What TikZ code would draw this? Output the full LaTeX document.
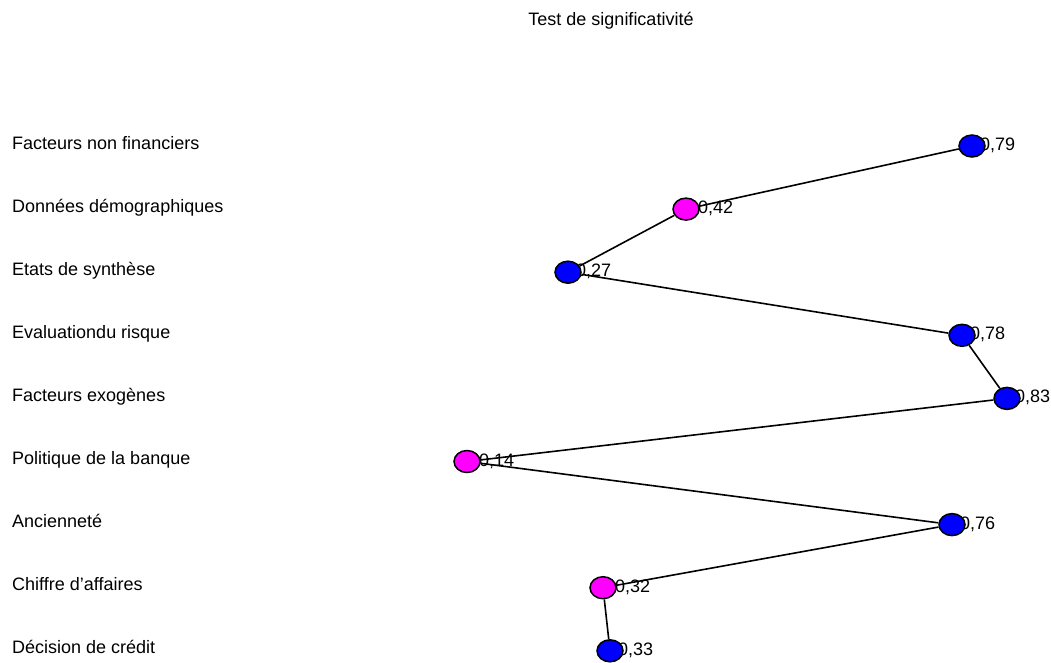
\documentclass[tikz,border=0pt]{standalone}
\usepackage{fontspec}
\setmainfont{Liberation Sans}
\usetikzlibrary{shapes.geometric,backgrounds}
\definecolor{ptblue}{RGB}{0,0,255}
\definecolor{ptmagenta}{RGB}{255,0,255}
\begin{document}
\begin{tikzpicture}[x=1pt,y=-1pt,
  every node/.style={font=\fontsize{18}{21}\selectfont},
  pt/.style={ellipse,draw=black,line width=1.5pt,minimum width=26pt,minimum height=22pt,inner sep=0pt},
  ptb/.style={pt,fill=ptblue},
  ptm/.style={pt,fill=ptmagenta},
  link/.style={black,line width=1.6pt},
  rowlabel/.style={anchor=base west,inner sep=0pt},
  valb/.style={anchor=base west,inner sep=0pt,xshift=8pt,yshift=-4.5pt},
  valm/.style={anchor=base west,inner sep=0pt,xshift=12pt,yshift=-4.5pt}]
\useasboundingbox (0,0) rectangle (1051,662);

% title
\node[anchor=base] (title) at (611,25) {Test de significativité};

% row labels
\node[rowlabel] (r1) at (12,149.0) {Facteurs non financiers};
\node[rowlabel] (r2) at (12,212.1) {Données démographiques};
\node[rowlabel] (r3) at (12,275.2) {Etats de synthèse};
\node[rowlabel] (r4) at (12,338.3) {Evaluationdu risque};
\node[rowlabel] (r5) at (12,401.4) {Facteurs exogènes};
\node[rowlabel] (r6) at (12,464.5) {Politique de la banque};
\node[rowlabel] (r7) at (12,527.6) {Ancienneté};
\node[rowlabel] (r8) at (12,590.7) {Chiffre d’affaires};
\node[rowlabel] (r9) at (12,653.8) {Décision de crédit};

% points
\node[ptb] (p1) at (972,146.0) {};
\node[ptm] (p2) at (686,209.1) {};
\node[ptb] (p3) at (568,272.2) {};
\node[ptb] (p4) at (962,335.3) {};
\node[ptb] (p5) at (1007,398.4) {};
\node[ptm] (p6) at (467,461.5) {};
\node[ptb] (p7) at (952,524.6) {};
\node[ptm] (p8) at (603,587.7) {};
\node[ptb] (p9) at (610,650.8) {};

% connecting profile line
\draw[link] (p1) -- (p2) -- (p3) -- (p4) -- (p5) -- (p6) -- (p7) -- (p8) -- (p9);

% values, placed behind the points and the line
\begin{scope}[on background layer]
\node[valb] (v1) at (p1.center) {0,79};
\node[valm] (v2) at (p2.center) {0,42};
\node[valb] (v3) at (p3.center) {0,27};
\node[valb] (v4) at (p4.center) {0,78};
\node[valb] (v5) at (p5.center) {0,83};
\node[valm] (v6) at (p6.center) {0,14};
\node[valb] (v7) at (p7.center) {0,76};
\node[valm] (v8) at (p8.center) {0,32};
\node[valb] (v9) at (p9.center) {0,33};
\end{scope}
\end{tikzpicture}
\end{document}
